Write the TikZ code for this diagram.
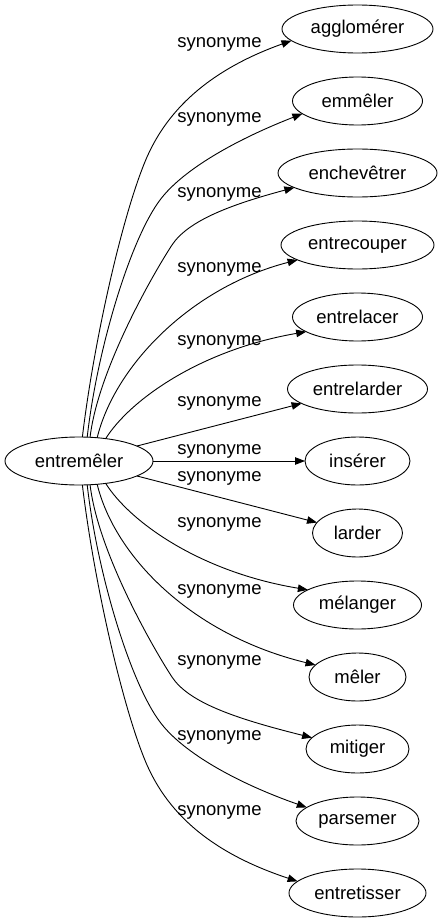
\documentclass[tikz,border=0pt]{standalone}
\usepackage{fontspec}
\setmainfont{Liberation Sans}
\usetikzlibrary{arrows.meta,shapes.geometric}
\begin{document}
\begin{tikzpicture}[x=1pt,y=-1pt,
  every node/.style={font=\fontsize{18.5}{22}\selectfont},
  word/.style={draw, ellipse, inner sep=0pt, outer sep=0pt, minimum height=48pt, line width=0.9pt},
  lab/.style={inner sep=0pt},
  link/.style={draw, line width=0.9pt, -{Triangle[length=10pt,width=7.5pt]}}]
\useasboundingbox (0,0) rectangle (442,923);
\node[word, minimum width=148pt] (L) at (79,461) {entremêler};
\node[word, minimum width=151pt] (t0) at (357.5,29) {agglomérer};
\node[word, minimum width=130pt] (t1) at (357.5,101) {emmêler};
\node[word, minimum width=159pt] (t2) at (357.5,173) {enchevêtrer};
\node[word, minimum width=153pt] (t3) at (357.5,245) {entrecouper};
\node[word, minimum width=130pt] (t4) at (357.5,317) {entrelacer};
\node[word, minimum width=140pt] (t5) at (357.5,389) {entrelarder};
\node[word, minimum width=105pt] (t6) at (357.5,461) {insérer};
\node[word, minimum width=90pt] (t7) at (357.5,533) {larder};
\node[word, minimum width=128pt] (t8) at (357.5,605) {mélanger};
\node[word, minimum width=97pt] (t9) at (357.5,677) {mêler};
\node[word, minimum width=103pt] (t10) at (357.5,749) {mitiger};
\node[word, minimum width=123pt] (t11) at (357.5,821) {parsemer};
\node[word, minimum width=137pt] (t12) at (357.5,893) {entretisser};

\node[lab] (s0) at (219.5,44) {synonyme};
\node[lab] (s1) at (219.5,119) {synonyme};
\node[lab] (s2) at (219.5,194) {synonyme};
\node[lab] (s3) at (219.5,269) {synonyme};
\node[lab] (s4) at (219.5,342) {synonyme};
\node[lab] (s5) at (219.5,403) {synonyme};
\node[lab] (s6) at (219.5,451) {synonyme};
\node[lab] (s7) at (219.5,478) {synonyme};
\node[lab] (s8) at (219.5,524) {synonyme};
\node[lab] (s9) at (219.5,591) {synonyme};
\node[lab] (s10) at (219.5,662) {synonyme};
\node[lab] (s11) at (219.5,737) {synonyme};
\node[lab] (s12) at (219.5,812) {synonyme};

% upper edges
\draw[link] (L.82.9) .. controls (94,340) and (123,212) .. (147,157)
  .. controls (170,105) and (215,68) .. (t0.190.4);
\draw[link] (L.71.5) .. controls (97,350) and (130,240) .. (160,200)
  .. controls (184,168) and (240,138) .. (t1.193.4);
\draw[link] (L.65.1) .. controls (98,370) and (153,274) .. (172,245)
  .. controls (188.5,220) and (233,204) .. (t2.193.6);
\draw[link] (L.52.3) .. controls (115,365) and (192,287) .. (t3.194.1);
\draw[link] (L.40.8) .. controls (130,400) and (200,350) .. (t4.196.5);
\draw[link] (L) -- (t5);
\draw[link] (L) -- (t6);
% lower edges
\draw[link] (L) -- (t7);
\draw[link] (L.-40.8) .. controls (130,522) and (200,572) .. (t8.163.3);
\draw[link] (L.-52.3) .. controls (115,557) and (192,635) .. (t9.164.1);
\draw[link] (L.-65.1) .. controls (98,552) and (153,648) .. (172,677)
  .. controls (188.5,702) and (233,718) .. (t10.166.5);
\draw[link] (L.-71.5) .. controls (97,572) and (130,682) .. (160,722)
  .. controls (184,754) and (240,784) .. (t11.165.9);
\draw[link] (L.-82.9) .. controls (94,582) and (123,710) .. (147,765)
  .. controls (170,817) and (215,854) .. (t12.169.8);
\end{tikzpicture}
\end{document}
